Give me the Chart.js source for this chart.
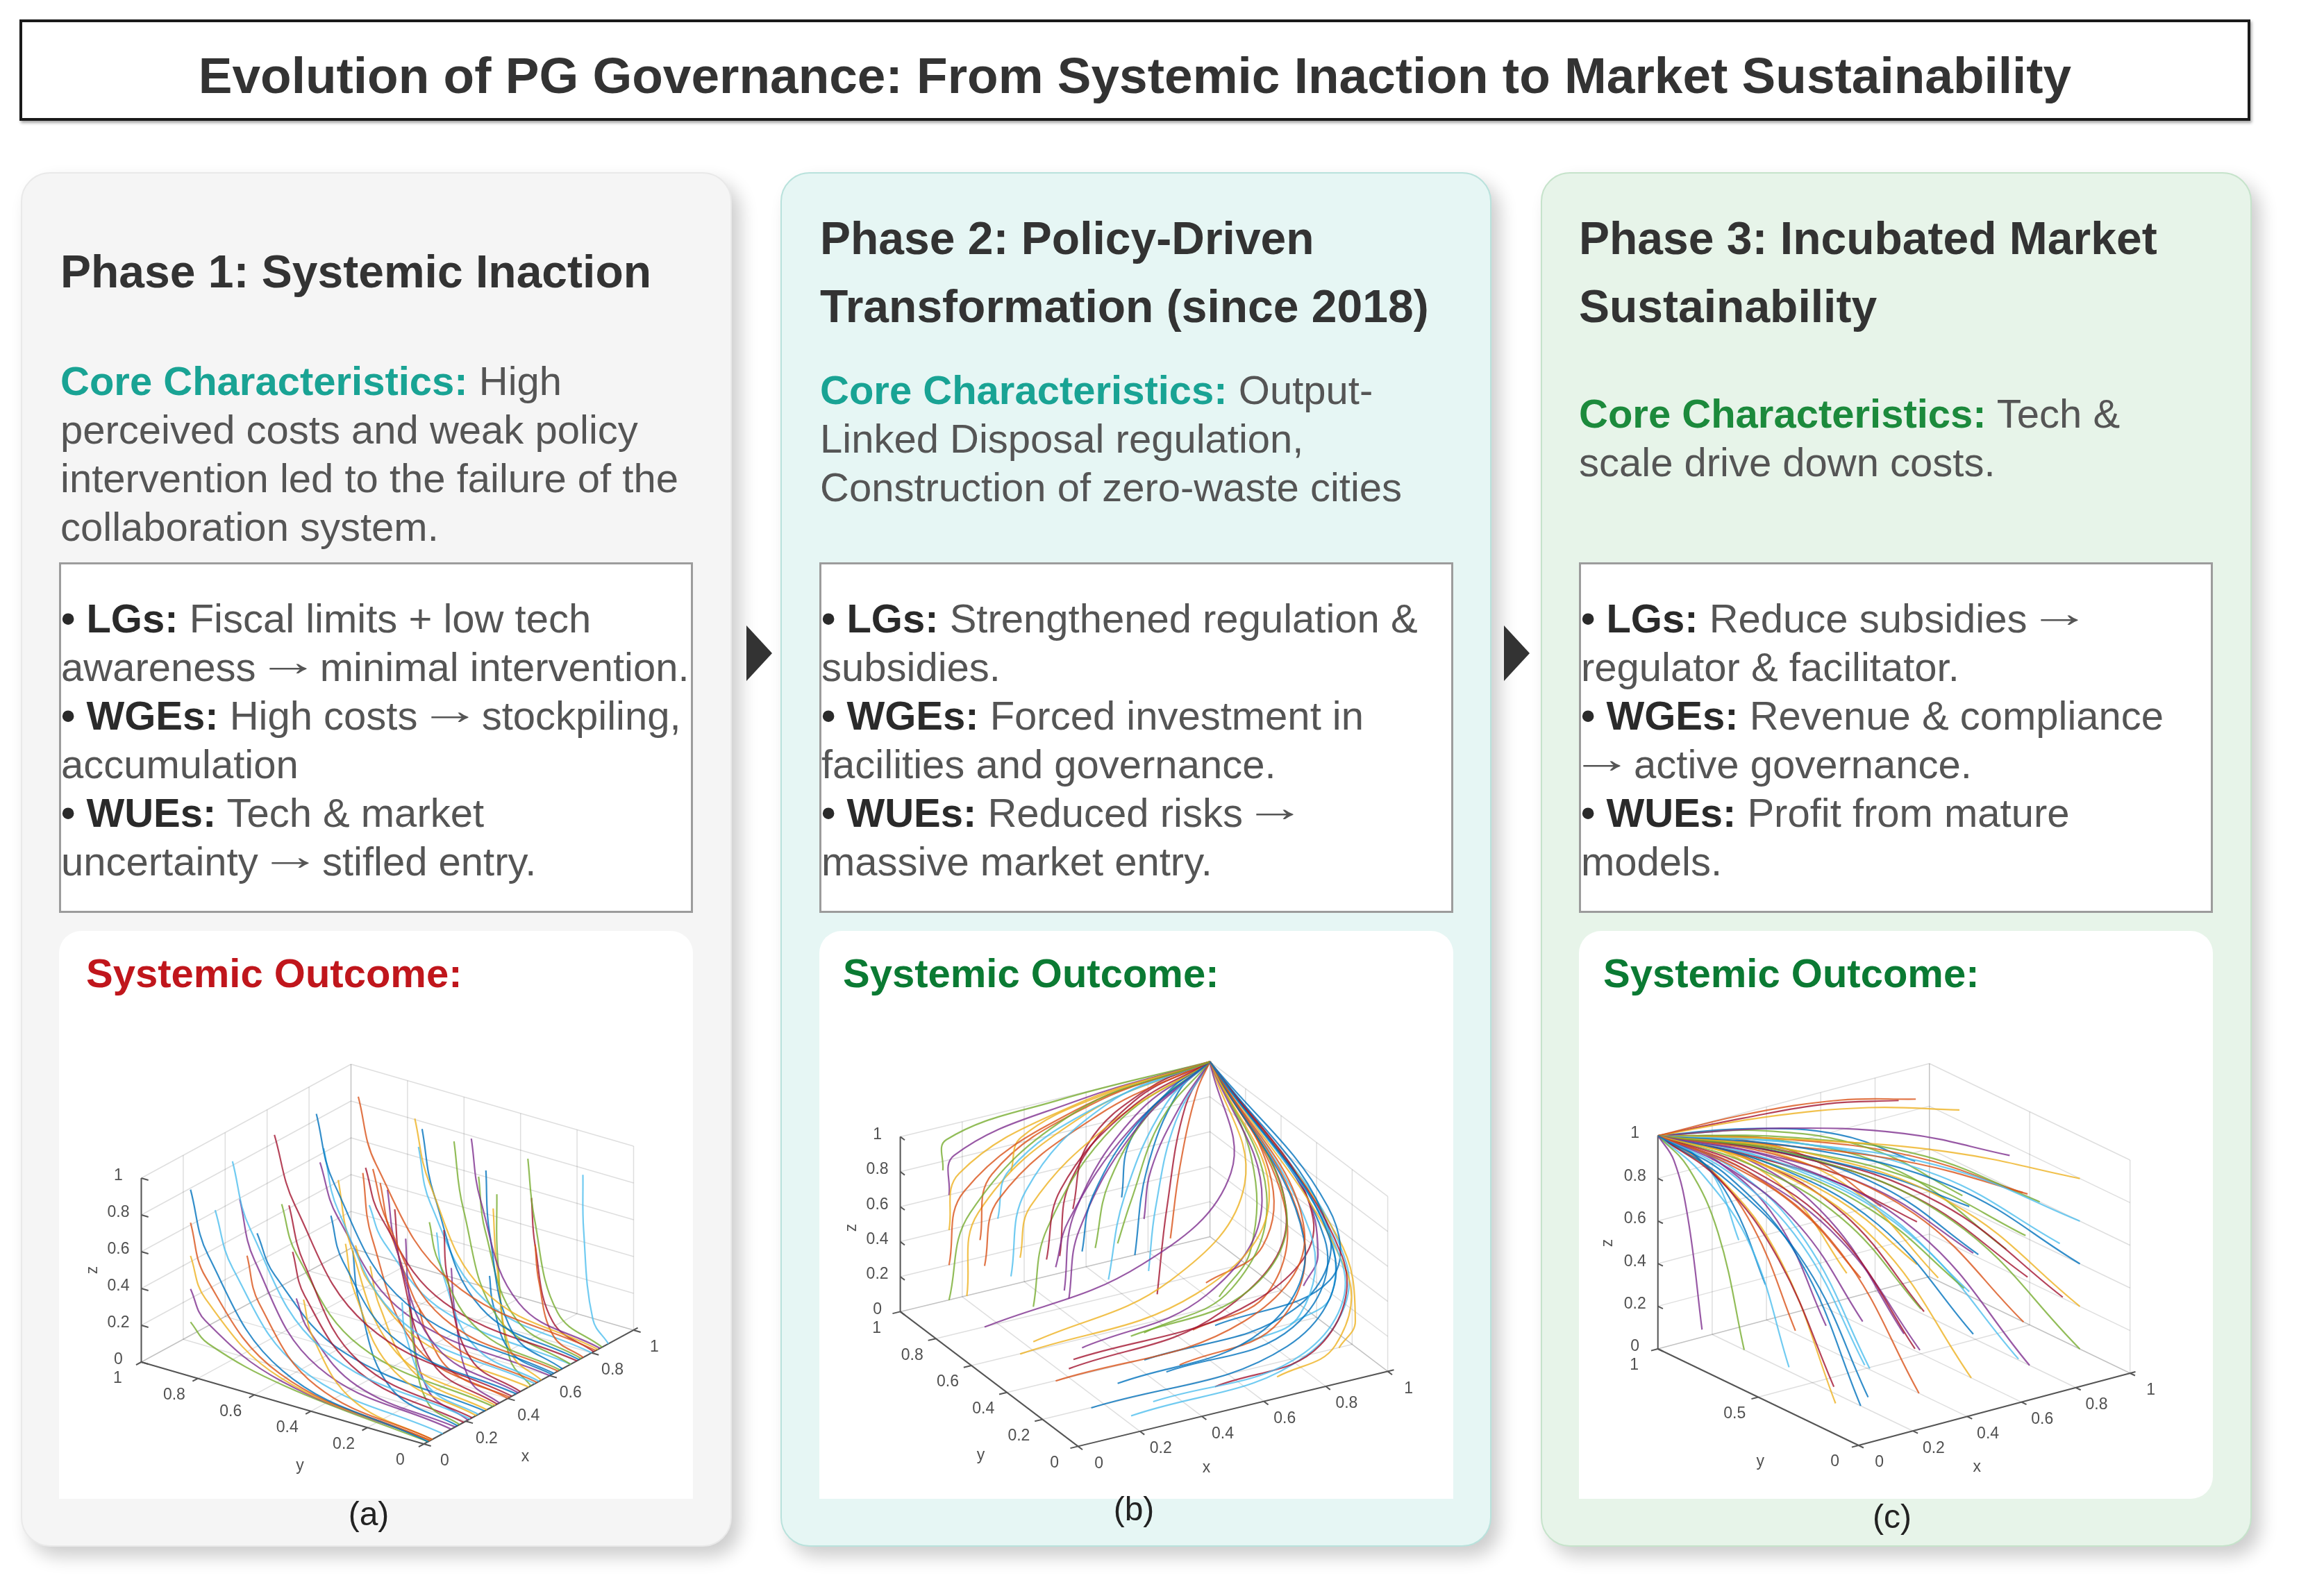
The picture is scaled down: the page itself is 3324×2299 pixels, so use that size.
<!DOCTYPE html>
<html>
<head>
<meta charset="utf-8">
<script src="https://cdn.jsdelivr.net/npm/chart.js@4.4.1/dist/chart.umd.min.js"></script>
<style>
body { margin: 0; background: #fff; font-family: "Liberation Sans", Arial, sans-serif; }
#page { position: relative; width: 3324px; height: 2299px; overflow: hidden; }
#page > div, #page > canvas { position: absolute; }
.title { left: 28px; top: 28px; width: 3213px; height: 146px; box-sizing: border-box; border: 4px solid #1a1a1a;
  box-shadow: 2px 3px 4px rgba(0,0,0,.35); font-weight: bold; font-size: 73px; color: #333; text-align: center; line-height: 154px; }
.card { top: 248px; height: 1980px; width: 1024px; box-sizing: border-box; border-radius: 42px; border: 2px solid;
  box-shadow: 12px 14px 26px rgba(0,0,0,.2); }
.phase { font-weight: bold; font-size: 66px; color: #333; line-height: 97.5px; white-space: nowrap; }
.core { font-size: 58px; color: #555; line-height: 70.1px; white-space: nowrap; }
.bullets { top: 810px; width: 913px; height: 505px; box-sizing: border-box; border: 3px solid #9c9c9c; background: #fff;
  font-size: 58px; color: #555; line-height: 70.1px; padding-top: 43px; white-space: nowrap; }
.bullets b { color: #2a2a2a; }
.ar { display: inline-block; width: 60px; text-align: center; transform: translateY(-8px) scaleX(1.55); }
.outcome { top: 1341px; width: 913px; height: 818px; background: #fff; border-radius: 32px 32px 0 0; }
.otitle { font-weight: bold; font-size: 58px; line-height: 70px; top: 1367px; white-space: nowrap; }
.cap { font-size: 48px; color: #222; line-height: 60px; width: 200px; text-align: center; }
.arrow { width: 0; height: 0; border-top: 40px solid transparent; border-bottom: 40px solid transparent; border-left: 37px solid #333; top: 901px; }
</style>
</head>
<body>
<div id="page">
  <div class="title">Evolution of PG Governance: From Systemic Inaction to Market Sustainability</div>

  <div class="card" style="left:30px; background:#f5f5f5; border-color:#e9e9e9;"></div>
  <div class="card" style="left:1124px; background:#e6f6f4; border-color:#b9e2dc;"></div>
  <div class="card" style="left:2219px; background:#e7f4e9; border-color:#c6e3cb;"></div>

  <div class="arrow" style="left:1075px;"></div>
  <div class="arrow" style="left:2166px;"></div>

  <div class="phase" style="left:87px; top:343px;">Phase 1: Systemic Inaction</div>
  <div class="phase" style="left:1181px; top:295px;">Phase 2: Policy-Driven<br>Transformation (since 2018)</div>
  <div class="phase" style="left:2274px; top:295px;">Phase 3: Incubated Market<br>Sustainability</div>

  <div class="core" style="left:87px; top:514px;"><b style="color:#19a394">Core Characteristics:</b> High<br>perceived costs and weak policy<br>intervention led to the failure of the<br>collaboration system.</div>
  <div class="core" style="left:1181px; top:527px;"><b style="color:#19a394">Core Characteristics:</b> Output-<br>Linked Disposal regulation,<br>Construction of zero-waste cities</div>
  <div class="core" style="left:2274px; top:561px;"><b style="color:#1c8a3c">Core Characteristics:</b> Tech &amp;<br>scale drive down costs.</div>

  <div class="bullets" style="left:85px;"><b>• LGs:</b> Fiscal limits + low tech<br>awareness <span class="ar">→</span> minimal intervention.<br><b>• WGEs:</b> High costs <span class="ar">→</span> stockpiling,<br>accumulation<br><b>• WUEs:</b> Tech &amp; market<br>uncertainty <span class="ar">→</span> stifled entry.</div>
  <div class="bullets" style="left:1180px;"><b>• LGs:</b> Strengthened regulation &amp;<br>subsidies.<br><b>• WGEs:</b> Forced investment in<br>facilities and governance.<br><b>• WUEs:</b> Reduced risks <span class="ar">→</span><br>massive market entry.</div>
  <div class="bullets" style="left:2274px;"><b>• LGs:</b> Reduce subsidies <span class="ar">→</span><br>regulator &amp; facilitator.<br><b>• WGEs:</b> Revenue &amp; compliance<br><span class="ar">→</span> active governance.<br><b>• WUEs:</b> Profit from mature<br>models.</div>

  <div class="outcome" style="left:85px;"></div>
  <div class="outcome" style="left:1180px;"></div>
  <div class="outcome" style="left:2274px; border-radius:32px 32px 32px 0;"></div>

  <div class="otitle" style="left:124px; color:#c0161c;">Systemic Outcome:</div>
  <div class="otitle" style="left:1214px; color:#0b7a33;">Systemic Outcome:</div>
  <div class="otitle" style="left:2309px; color:#0b7a33;">Systemic Outcome:</div>

  <canvas id="plotA" width="913" height="709" style="left:85px; top:1450px;"></canvas>
  <canvas id="plotB" width="913" height="709" style="left:1180px; top:1450px;"></canvas>
  <canvas id="plotC" width="913" height="709" style="left:2274px; top:1450px;"></canvas>

  <div class="cap" style="left:431px; top:2151px;">(a)</div>
  <div class="cap" style="left:1533px; top:2144px;">(b)</div>
  <div class="cap" style="left:2625px; top:2155px;">(c)</div>
</div>

<script>
// tick values of the 3D axes
const xTicks = [0, 0.2, 0.4, 0.6, 0.8, 1];
const yTicks = [0, 0.2, 0.4, 0.6, 0.8, 1];
const yTicksC = [0, 0.5, 1];
const zTicks = [0, 0.2, 0.4, 0.6, 0.8, 1];

// MATLAB default line colours
const lineColors = ['#0072BD', '#D95319', '#EDB120', '#7E2F8E', '#77AC30', '#4DBEEE', '#A2142F'];

// (a) trajectories [x, y, z] -> collapse to the floor
const trajA = [
  [[0.10,0.90,0.92],[0.09,0.83,0.60],[0.08,0.56,0.10],[0.02,0,0]],
  [[0.10,0.90,0.74],[0.09,0.84,0.48],[0.08,0.57,0.08],[0.03,0,0]],
  [[0.10,0.90,0.56],[0.09,0.84,0.36],[0.08,0.57,0.06],[0.03,0,0]],
  [[0.10,0.90,0.38],[0.09,0.84,0.24],[0.08,0.56,0.04],[0.03,0,0]],
  [[0.10,0.90,0.20],[0.09,0.83,0.12],[0.08,0.55,0.02],[0.02,0,0]],
  [[0.30,0.90,0.95],[0.29,0.83,0.62],[0.27,0.56,0.10],[0.22,0,0]],
  [[0.50,0.90,0.97],[0.49,0.82,0.63],[0.47,0.55,0.11],[0.42,0,0]],
  [[0.70,0.90,0.96],[0.69,0.83,0.62],[0.67,0.56,0.10],[0.62,0,0]],
  [[0.90,0.90,0.93],[0.89,0.83,0.60],[0.87,0.55,0.10],[0.82,0,0]],
  [[0.90,0.70,0.90],[0.89,0.64,0.58],[0.87,0.43,0.10],[0.83,0,0]],
  [[0.90,0.50,0.88],[0.89,0.46,0.57],[0.87,0.31,0.09],[0.84,0,0]],
  [[0.90,0.30,0.86],[0.89,0.27,0.56],[0.88,0.18,0.09],[0.85,0,0]],
  [[0.92,0.12,0.84],[0.91,0.11,0.55],[0.90,0.07,0.09],[0.88,0,0]],
  [[0.30,0.70,0.80],[0.29,0.64,0.52],[0.27,0.43,0.09],[0.23,0,0]],
  [[0.50,0.70,0.62],[0.49,0.65,0.40],[0.47,0.44,0.07],[0.44,0,0]],
  [[0.70,0.70,0.75],[0.69,0.64,0.49],[0.67,0.43,0.08],[0.64,0,0]],
  [[0.30,0.50,0.68],[0.29,0.46,0.44],[0.28,0.31,0.08],[0.25,0,0]],
  [[0.50,0.50,0.85],[0.49,0.46,0.55],[0.48,0.31,0.09],[0.45,0,0]],
  [[0.70,0.50,0.55],[0.69,0.46,0.36],[0.68,0.31,0.06],[0.65,0,0]],
  [[0.30,0.30,0.45],[0.29,0.28,0.29],[0.28,0.19,0.05],[0.26,0,0]],
  [[0.50,0.30,0.72],[0.49,0.28,0.47],[0.48,0.19,0.08],[0.46,0,0]],
  [[0.70,0.30,0.92],[0.69,0.28,0.60],[0.68,0.19,0.10],[0.66,0,0]],
  [[0.10,0.70,0.65],[0.09,0.65,0.42],[0.08,0.44,0.07],[0.04,0,0]],
  [[0.10,0.50,0.50],[0.09,0.46,0.32],[0.08,0.31,0.05],[0.04,0,0]],
  [[0.20,0.80,0.85],[0.19,0.74,0.55],[0.17,0.50,0.09],[0.13,0,0]],
  [[0.40,0.80,0.70],[0.39,0.74,0.46],[0.37,0.50,0.08],[0.33,0,0]],
  [[0.60,0.80,0.88],[0.59,0.74,0.57],[0.57,0.50,0.09],[0.53,0,0]],
  [[0.80,0.80,0.65],[0.79,0.74,0.42],[0.77,0.50,0.07],[0.73,0,0]],
  [[0.80,0.60,0.95],[0.79,0.55,0.62],[0.77,0.37,0.10],[0.74,0,0]],
  [[0.60,0.60,0.78],[0.59,0.55,0.51],[0.57,0.37,0.08],[0.54,0,0]],
  [[0.40,0.60,0.92],[0.39,0.55,0.60],[0.37,0.37,0.10],[0.34,0,0]],
  [[0.20,0.60,0.40],[0.19,0.55,0.26],[0.18,0.37,0.04],[0.15,0,0]],
  [[0.80,0.40,0.78],[0.79,0.37,0.51],[0.78,0.25,0.08],[0.75,0,0]],
  [[0.60,0.40,0.60],[0.59,0.37,0.39],[0.58,0.25,0.06],[0.55,0,0]],
  [[0.40,0.40,0.85],[0.39,0.37,0.55],[0.38,0.25,0.09],[0.35,0,0]],
  [[0.20,0.40,0.75],[0.19,0.37,0.49],[0.18,0.25,0.08],[0.16,0,0]],
  [[0.80,0.20,0.50],[0.79,0.18,0.32],[0.78,0.12,0.05],[0.76,0,0]],
  [[0.60,0.20,0.82],[0.59,0.18,0.53],[0.58,0.12,0.08],[0.56,0,0]],
  [[0.40,0.20,0.62],[0.39,0.18,0.40],[0.38,0.12,0.06],[0.36,0,0]],
  [[0.20,0.20,0.55],[0.19,0.18,0.36],[0.18,0.12,0.06],[0.17,0,0]],
  [[0.15,0.85,0.80],[0.14,0.78,0.52],[0.13,0.53,0.09],[0.09,0,0]],
  [[0.25,0.65,0.60],[0.24,0.60,0.39],[0.23,0.40,0.07],[0.19,0,0]],
  [[0.35,0.85,0.55],[0.34,0.78,0.36],[0.33,0.53,0.06],[0.29,0,0]],
  [[0.45,0.55,0.95],[0.44,0.51,0.62],[0.43,0.34,0.10],[0.40,0,0]],
  [[0.55,0.65,0.45],[0.54,0.60,0.29],[0.53,0.40,0.05],[0.50,0,0]],
  [[0.65,0.85,0.75],[0.64,0.78,0.49],[0.63,0.53,0.08],[0.60,0,0]],
  [[0.75,0.45,0.98],[0.74,0.41,0.64],[0.73,0.28,0.11],[0.70,0,0]],
  [[0.85,0.65,0.80],[0.84,0.60,0.52],[0.83,0.40,0.09],[0.80,0,0]],
  [[0.85,0.25,0.70],[0.84,0.23,0.46],[0.83,0.16,0.08],[0.81,0,0]],
  [[0.65,0.25,0.40],[0.64,0.23,0.26],[0.63,0.16,0.04],[0.61,0,0]],
  [[0.45,0.35,0.30],[0.44,0.32,0.20],[0.43,0.22,0.03],[0.41,0,0]],
  [[0.35,0.45,0.55],[0.34,0.41,0.36],[0.33,0.28,0.06],[0.30,0,0]],
  [[0.25,0.25,0.85],[0.24,0.23,0.55],[0.23,0.16,0.09],[0.21,0,0]],
  [[0.55,0.15,0.95],[0.54,0.14,0.62],[0.53,0.09,0.10],[0.51,0,0]],
  [[0.75,0.75,0.50],[0.74,0.69,0.33],[0.73,0.47,0.06],[0.70,0,0]]
];

// (b) trajectories -> converge to (1,1,1)
const trajB = [
  [[0.10,0.10,0.10],[0.75,0.13,0.15],[0.97,0.25,0.50],[1,1,1]],
  [[0.10,0.30,0.10],[0.72,0.32,0.16],[0.96,0.40,0.52],[1,1,1]],
  [[0.10,0.50,0.10],[0.68,0.52,0.18],[0.95,0.58,0.55],[1,1,1]],
  [[0.10,0.70,0.10],[0.62,0.72,0.22],[0.93,0.76,0.58],[1,1,1]],
  [[0.10,0.90,0.10],[0.18,0.92,0.55],[0.55,0.97,0.93],[1,1,1]],
  [[0.30,0.10,0.05],[0.80,0.12,0.10],[0.98,0.22,0.45],[1,1,1]],
  [[0.50,0.10,0.05],[0.85,0.12,0.12],[0.99,0.24,0.48],[1,1,1]],
  [[0.30,0.30,0.00],[0.78,0.32,0.08],[0.97,0.42,0.45],[1,1,1]],
  [[0.50,0.30,0.02],[0.84,0.33,0.10],[0.98,0.45,0.50],[1,1,1]],
  [[0.70,0.10,0.02],[0.90,0.12,0.10],[0.99,0.22,0.42],[1,1,1]],
  [[0.30,0.50,0.05],[0.72,0.53,0.15],[0.95,0.62,0.52],[1,1,1]],
  [[0.50,0.50,0.05],[0.80,0.53,0.15],[0.97,0.63,0.55],[1,1,1]],
  [[0.70,0.30,0.05],[0.90,0.32,0.12],[0.99,0.42,0.48],[1,1,1]],
  [[0.10,0.20,0.30],[0.70,0.23,0.35],[0.96,0.35,0.62],[1,1,1]],
  [[0.30,0.15,0.25],[0.80,0.18,0.30],[0.98,0.30,0.60],[1,1,1]],
  [[0.10,0.90,0.30],[0.16,0.92,0.68],[0.55,0.97,0.94],[1,1,1]],
  [[0.10,0.90,0.50],[0.15,0.93,0.78],[0.55,0.98,0.96],[1,1,1]],
  [[0.10,0.90,0.70],[0.14,0.94,0.88],[0.55,0.98,0.98],[1,1,1]],
  [[0.08,0.90,0.85],[0.12,0.95,0.97],[0.50,0.99,1.00],[1,1,1]],
  [[0.30,0.90,0.15],[0.36,0.92,0.60],[0.65,0.97,0.93],[1,1,1]],
  [[0.30,0.70,0.40],[0.38,0.76,0.72],[0.68,0.90,0.94],[1,1,1]],
  [[0.30,0.50,0.60],[0.38,0.58,0.82],[0.68,0.82,0.96],[1,1,1]],
  [[0.10,0.70,0.45],[0.18,0.76,0.75],[0.58,0.90,0.95],[1,1,1]],
  [[0.10,0.50,0.65],[0.18,0.58,0.85],[0.58,0.82,0.97],[1,1,1]],
  [[0.10,0.30,0.75],[0.20,0.40,0.90],[0.60,0.75,0.98],[1,1,1]],
  [[0.30,0.30,0.80],[0.40,0.40,0.92],[0.70,0.75,0.99],[1,1,1]],
  [[0.50,0.70,0.20],[0.58,0.75,0.60],[0.80,0.90,0.92],[1,1,1]],
  [[0.50,0.90,0.45],[0.56,0.92,0.78],[0.78,0.97,0.96],[1,1,1]],
  [[0.70,0.90,0.10],[0.75,0.92,0.55],[0.88,0.97,0.90],[1,1,1]],
  [[0.70,0.70,0.35],[0.76,0.75,0.70],[0.90,0.90,0.95],[1,1,1]],
  [[0.30,0.90,0.75],[0.35,0.93,0.90],[0.65,0.98,0.98],[1,1,1]],
  [[0.50,0.50,0.70],[0.58,0.60,0.87],[0.80,0.82,0.97],[1,1,1]],
  [[0.20,0.60,0.25],[0.28,0.66,0.62],[0.62,0.86,0.92],[1,1,1]],
  [[0.20,0.80,0.60],[0.26,0.84,0.82],[0.60,0.94,0.96],[1,1,1]],
  [[0.40,0.80,0.30],[0.46,0.84,0.68],[0.72,0.94,0.94],[1,1,1]],
  [[0.50,0.10,0.40],[0.90,0.15,0.45],[0.99,0.32,0.70],[1,1,1]],
  [[0.70,0.50,0.25],[0.90,0.53,0.35],[0.99,0.65,0.65],[1,1,1]],
  [[0.90,0.10,0.10],[0.97,0.13,0.20],[1.00,0.28,0.55],[1,1,1]],
  [[0.90,0.30,0.30],[0.97,0.34,0.42],[1.00,0.48,0.68],[1,1,1]],
  [[0.40,0.40,0.15],[0.80,0.43,0.22],[0.97,0.52,0.55],[1,1,1]],
  [[0.20,0.05,0.05],[0.78,0.08,0.12],[0.98,0.20,0.48],[1,1,1]],
  [[0.20,0.40,0.05],[0.70,0.42,0.14],[0.96,0.50,0.52],[1,1,1]],
  [[0.40,0.20,0.10],[0.82,0.22,0.16],[0.98,0.32,0.52],[1,1,1]],
  [[0.60,0.40,0.10],[0.86,0.43,0.18],[0.98,0.55,0.55],[1,1,1]],
  [[0.20,0.60,0.05],[0.66,0.63,0.18],[0.94,0.70,0.56],[1,1,1]],
  [[0.20,0.40,0.45],[0.28,0.48,0.75],[0.64,0.78,0.95],[1,1,1]],
  [[0.40,0.60,0.50],[0.48,0.66,0.80],[0.74,0.86,0.96],[1,1,1]],
  [[0.40,0.30,0.60],[0.48,0.40,0.85],[0.74,0.74,0.97],[1,1,1]],
  [[0.60,0.60,0.15],[0.66,0.65,0.58],[0.84,0.86,0.92],[1,1,1]],
  [[0.60,0.80,0.55],[0.65,0.84,0.82],[0.84,0.94,0.96],[1,1,1]],
  [[0.20,0.90,0.40],[0.25,0.92,0.74],[0.60,0.97,0.95],[1,1,1]],
  [[0.10,0.80,0.20],[0.16,0.84,0.62],[0.56,0.94,0.93],[1,1,1]],
  [[0.30,0.60,0.30],[0.37,0.66,0.68],[0.68,0.86,0.94],[1,1,1]],
  [[0.80,0.60,0.05],[0.92,0.63,0.25],[0.99,0.75,0.65],[1,1,1]],
  [[0.80,0.20,0.20],[0.95,0.23,0.28],[1.00,0.36,0.58],[1,1,1]]
];

// (c) trajectories -> fan out from (0,1,1)
const trajC = [
  [[0,1,1],[0.07,0.74,0.90],[0.14,0.48,0.60],[0.20,0.26,0.00]],
  [[0,1,1],[0.14,0.73,0.90],[0.28,0.47,0.60],[0.40,0.24,0.00]],
  [[0,1,1],[0.21,0.74,0.90],[0.42,0.48,0.60],[0.60,0.25,0.00]],
  [[0,1,1],[0.28,0.73,0.90],[0.56,0.46,0.60],[0.80,0.23,0.00]],
  [[0,1,1],[0.35,0.74,0.90],[0.70,0.48,0.60],[1.00,0.25,0.00]],
  [[0,1,1],[0.07,0.73,0.92],[0.14,0.47,0.68],[0.20,0.24,0.20]],
  [[0,1,1],[0.14,0.74,0.92],[0.28,0.48,0.68],[0.40,0.26,0.20]],
  [[0,1,1],[0.21,0.73,0.92],[0.42,0.47,0.68],[0.60,0.24,0.21]],
  [[0,1,1],[0.28,0.74,0.92],[0.56,0.48,0.68],[0.80,0.26,0.19]],
  [[0,1,1],[0.35,0.74,0.92],[0.70,0.48,0.68],[1.00,0.25,0.20]],
  [[0,1,1],[0.07,0.74,0.94],[0.14,0.48,0.76],[0.20,0.25,0.40]],
  [[0,1,1],[0.14,0.73,0.94],[0.28,0.46,0.76],[0.40,0.23,0.40]],
  [[0,1,1],[0.21,0.74,0.94],[0.42,0.48,0.76],[0.60,0.26,0.40]],
  [[0,1,1],[0.28,0.73,0.94],[0.56,0.47,0.76],[0.80,0.24,0.41]],
  [[0,1,1],[0.35,0.74,0.94],[0.70,0.48,0.76],[1.00,0.25,0.40]],
  [[0,1,1],[0.07,0.74,0.96],[0.14,0.48,0.84],[0.20,0.26,0.60]],
  [[0,1,1],[0.14,0.74,0.96],[0.28,0.48,0.84],[0.40,0.25,0.60]],
  [[0,1,1],[0.21,0.73,0.96],[0.42,0.47,0.84],[0.60,0.24,0.59]],
  [[0,1,1],[0.28,0.74,0.96],[0.56,0.48,0.84],[0.80,0.25,0.60]],
  [[0,1,1],[0.35,0.74,0.96],[0.70,0.48,0.84],[1.00,0.25,0.60]],
  [[0,1,1],[0.14,0.74,0.98],[0.28,0.48,0.92],[0.40,0.25,0.80]],
  [[0,1,1],[0.21,0.74,0.98],[0.42,0.48,0.92],[0.60,0.26,0.80]],
  [[0,1,1],[0.28,0.73,0.98],[0.56,0.47,0.92],[0.80,0.24,0.80]],
  [[0,1,1],[0.35,0.74,0.98],[0.70,0.48,0.92],[1.00,0.25,0.80]],
  [[0,1,1],[0.00,0.92,0.92],[0.00,0.85,0.68],[0.00,0.78,0.19]],
  [[0,1,1],[0.00,0.85,0.92],[0.00,0.70,0.68],[0.00,0.57,0.19]],
  [[0,1,1],[0.00,0.78,0.92],[0.01,0.55,0.68],[0.01,0.36,0.20]],
  [[0,1,1],[0.01,0.70,0.92],[0.01,0.41,0.68],[0.02,0.15,0.20]],
  [[0,1,1],[0.02,0.66,0.92],[0.04,0.31,0.68],[0.05,0.02,0.20]],
  [[0,1,1],[0.33,1.00,0.99],[0.67,1.00,0.94],[0.95,1.00,0.85]],
  [[0,1,1],[0.35,0.95,0.99],[0.70,0.90,0.94],[1.00,0.85,0.85]],
  [[0,1,1],[0.35,0.86,0.98],[0.70,0.72,0.90],[1.00,0.60,0.75]],
  [[0,1,1],[0.35,0.81,0.96],[0.70,0.62,0.84],[1.00,0.45,0.60]],
  [[0,1,1],[0.35,0.77,0.95],[0.70,0.55,0.78],[1.00,0.35,0.45]],
  [[0,1,1],[0.30,0.98,0.99],[0.60,0.97,0.96],[0.85,0.95,0.90]],
  [[0,1,1],[0.04,0.86,0.95],[0.07,0.72,0.78],[0.10,0.60,0.45]],
  [[0,1,1],[0.04,0.81,0.93],[0.07,0.62,0.72],[0.10,0.45,0.30]],
  [[0,1,1],[0.25,0.84,0.93],[0.49,0.69,0.72],[0.70,0.55,0.30]],
  [[0,1,1],[0.18,0.81,0.92],[0.35,0.62,0.66],[0.50,0.45,0.15]],
  [[0,1,1],[0.32,0.90,0.96],[0.63,0.79,0.82],[0.90,0.70,0.55]],
  [[0,1,1],[0.11,0.77,0.91],[0.21,0.55,0.64],[0.30,0.35,0.10]],
  [[0,1,1],[0.18,0.77,0.93],[0.35,0.55,0.72],[0.50,0.35,0.30]],
  [[0,1,1],[0.25,0.77,0.95],[0.49,0.55,0.80],[0.70,0.35,0.50]],
  [[0,1,1],[0.32,0.79,0.97],[0.63,0.58,0.88],[0.90,0.40,0.70]],
  [[0,1,1],[0.04,0.74,0.90],[0.07,0.48,0.62],[0.10,0.25,0.05]],
  [[0,1,1],[0.11,0.69,0.93],[0.21,0.37,0.72],[0.30,0.10,0.30]],
  [[0,1,1],[0.18,0.70,0.95],[0.35,0.41,0.80],[0.50,0.15,0.50]],
  [[0,1,1],[0.25,0.70,0.91],[0.49,0.41,0.64],[0.70,0.15,0.10]],
  [[0,1,1],[0.32,0.72,0.93],[0.63,0.44,0.72],[0.90,0.20,0.30]],
  [[0,1,1],[0.28,0.93,0.97],[0.56,0.86,0.88],[0.80,0.80,0.70]],
  [[0,1,1],[0.21,0.90,0.96],[0.42,0.79,0.84],[0.60,0.70,0.60]],
  [[0,1,1],[0.14,0.86,0.94],[0.28,0.72,0.76],[0.40,0.60,0.40]],
  [[0,1,1],[0.09,0.83,0.93],[0.18,0.65,0.70],[0.25,0.50,0.25]],
  [[0,1,1],[0.33,0.84,0.94],[0.67,0.69,0.74],[0.95,0.55,0.35]],
  [[0,1,1],[0.05,0.93,0.96],[0.11,0.86,0.82],[0.15,0.80,0.55]]
];

// view of each 3D box on its canvas (orthographic projection, canvas px)
const views = [
  { id: 'plotA', traj: trajA, yT: yTicks,  O: [525.5, 630], ex: [302, -164], ey: [-407, -118], ez: [0, -265],
    lab: { x: [-5, 101], y: [25, 91], z: [-70, 0] } },
  { id: 'plotB', traj: trajB, yT: yTicks,  O: [372.6, 633.4], ex: [446, -108], ey: [-256, -194], ez: [0, -252],
    lab: { x: [-38, 85], y: [-12, 110], z: [-70, 5] } },
  { id: 'plotC', traj: trajC, yT: yTicksC, O: [402.7, 632], ex: [391, -104], ey: [-289, -139], ez: [0, -307],
    lab: { x: [-25, 84], y: [3, 93], z: [-72, 1] } }
];

function proj(v, p) {
  return {
    x: v.O[0] + p[0] * v.ex[0] + p[1] * v.ey[0] + p[2] * v.ez[0],
    y: v.O[1] + p[0] * v.ex[1] + p[1] * v.ey[1] + p[2] * v.ez[1]
  };
}

function seg(v, a, b, color, width, order) {
  return { data: [proj(v, a), proj(v, b)], showLine: true, borderColor: color, borderWidth: width,
           pointRadius: 0, tension: 0, order: order, clip: false };
}

function fmt(t) { return String(t); }

function tickPlugin(v) {
  return {
    id: 'ticks3d',
    afterDraw(chart) {
      const ctx = chart.ctx, sx = chart.scales.x, sy = chart.scales.y;
      const px = p => { const q = proj(v, p); return [sx.getPixelForValue(q.x), sy.getPixelForValue(q.y)]; };
      ctx.save();
      ctx.font = '23px "Liberation Sans", Arial, sans-serif';
      ctx.fillStyle = '#505050';
      ctx.textAlign = 'center';
      ctx.textBaseline = 'middle';
      xTicks.forEach(t => { const [a, b] = px([t, 0, 0]); ctx.fillText(fmt(t), a + 30, b + 25); });
      v.yT.forEach(t => { const [a, b] = px([0, t, 0]); ctx.fillText(fmt(t), a - 34, b + 24); });
      zTicks.forEach(t => { const [a, b] = px([0, 1, t]); ctx.fillText(fmt(t), a - 33, b - 3); });
      let [a, b] = px([0.5, 0, 0]);
      ctx.fillText('x', a + v.lab.x[0], b + v.lab.x[1]);
      [a, b] = px([0, 0.5, 0]);
      ctx.fillText('y', a + v.lab.y[0], b + v.lab.y[1]);
      [a, b] = px([0, 1, 0.5]);
      ctx.translate(a + v.lab.z[0], b + v.lab.z[1]);
      ctx.rotate(-Math.PI / 2);
      ctx.fillText('z', 0, 0);
      ctx.restore();
    }
  };
}

views.forEach(v => {
  const ds = [];
  const grid = 'rgba(0,0,0,0.13)';
  // floor z = 0
  xTicks.forEach(t => ds.push(seg(v, [t, 0, 0], [t, 1, 0], grid, 1.5, 3)));
  v.yT.forEach(t => ds.push(seg(v, [0, t, 0], [1, t, 0], grid, 1.5, 3)));
  // back wall y = 1
  xTicks.forEach(t => ds.push(seg(v, [t, 1, 0], [t, 1, 1], grid, 1.5, 3)));
  zTicks.forEach(t => ds.push(seg(v, [0, 1, t], [1, 1, t], grid, 1.5, 3)));
  // side wall x = 1
  v.yT.forEach(t => ds.push(seg(v, [1, t, 0], [1, t, 1], grid, 1.5, 3)));
  zTicks.forEach(t => ds.push(seg(v, [1, 0, t], [1, 1, t], grid, 1.5, 3)));
  // axes and tick marks
  const ax = '#555';
  ds.push(seg(v, [0, 0, 0], [1.02, 0, 0], ax, 2, 2));
  ds.push(seg(v, [0, 0, 0], [0, 1, 0], ax, 2, 2));
  ds.push(seg(v, [0, 1, 0], [0, 1, 1], ax, 2, 2));
  xTicks.forEach(t => ds.push(seg(v, [t, 0, 0], [t, -0.025, 0], ax, 2, 2)));
  v.yT.forEach(t => ds.push(seg(v, [0, t, 0], [-0.025, t, 0], ax, 2, 2)));
  zTicks.forEach(t => ds.push(seg(v, [0, 1, t], [0, 0.975, t], ax, 2, 2)));
  // trajectories
  v.traj.forEach((tr, i) => {
    ds.push({
      data: tr.map(p => proj(v, p)),
      showLine: true,
      borderColor: lineColors[i % lineColors.length] + 'cc',
      borderWidth: 2.2,
      pointRadius: 0,
      tension: 0.4,
      order: 0,
      clip: false
    });
  });

  new Chart(document.getElementById(v.id), {
    type: 'scatter',
    data: { datasets: ds },
    options: {
      responsive: false,
      animation: false,
      events: [],
      layout: { padding: 0 },
      plugins: { legend: { display: false }, tooltip: { enabled: false } },
      scales: {
        x: { type: 'linear', display: false, min: 0, max: 913 },
        y: { type: 'linear', display: false, min: 0, max: 709, reverse: true }
      }
    },
    plugins: [tickPlugin(v)]
  });
});
</script>
</body>
</html>
